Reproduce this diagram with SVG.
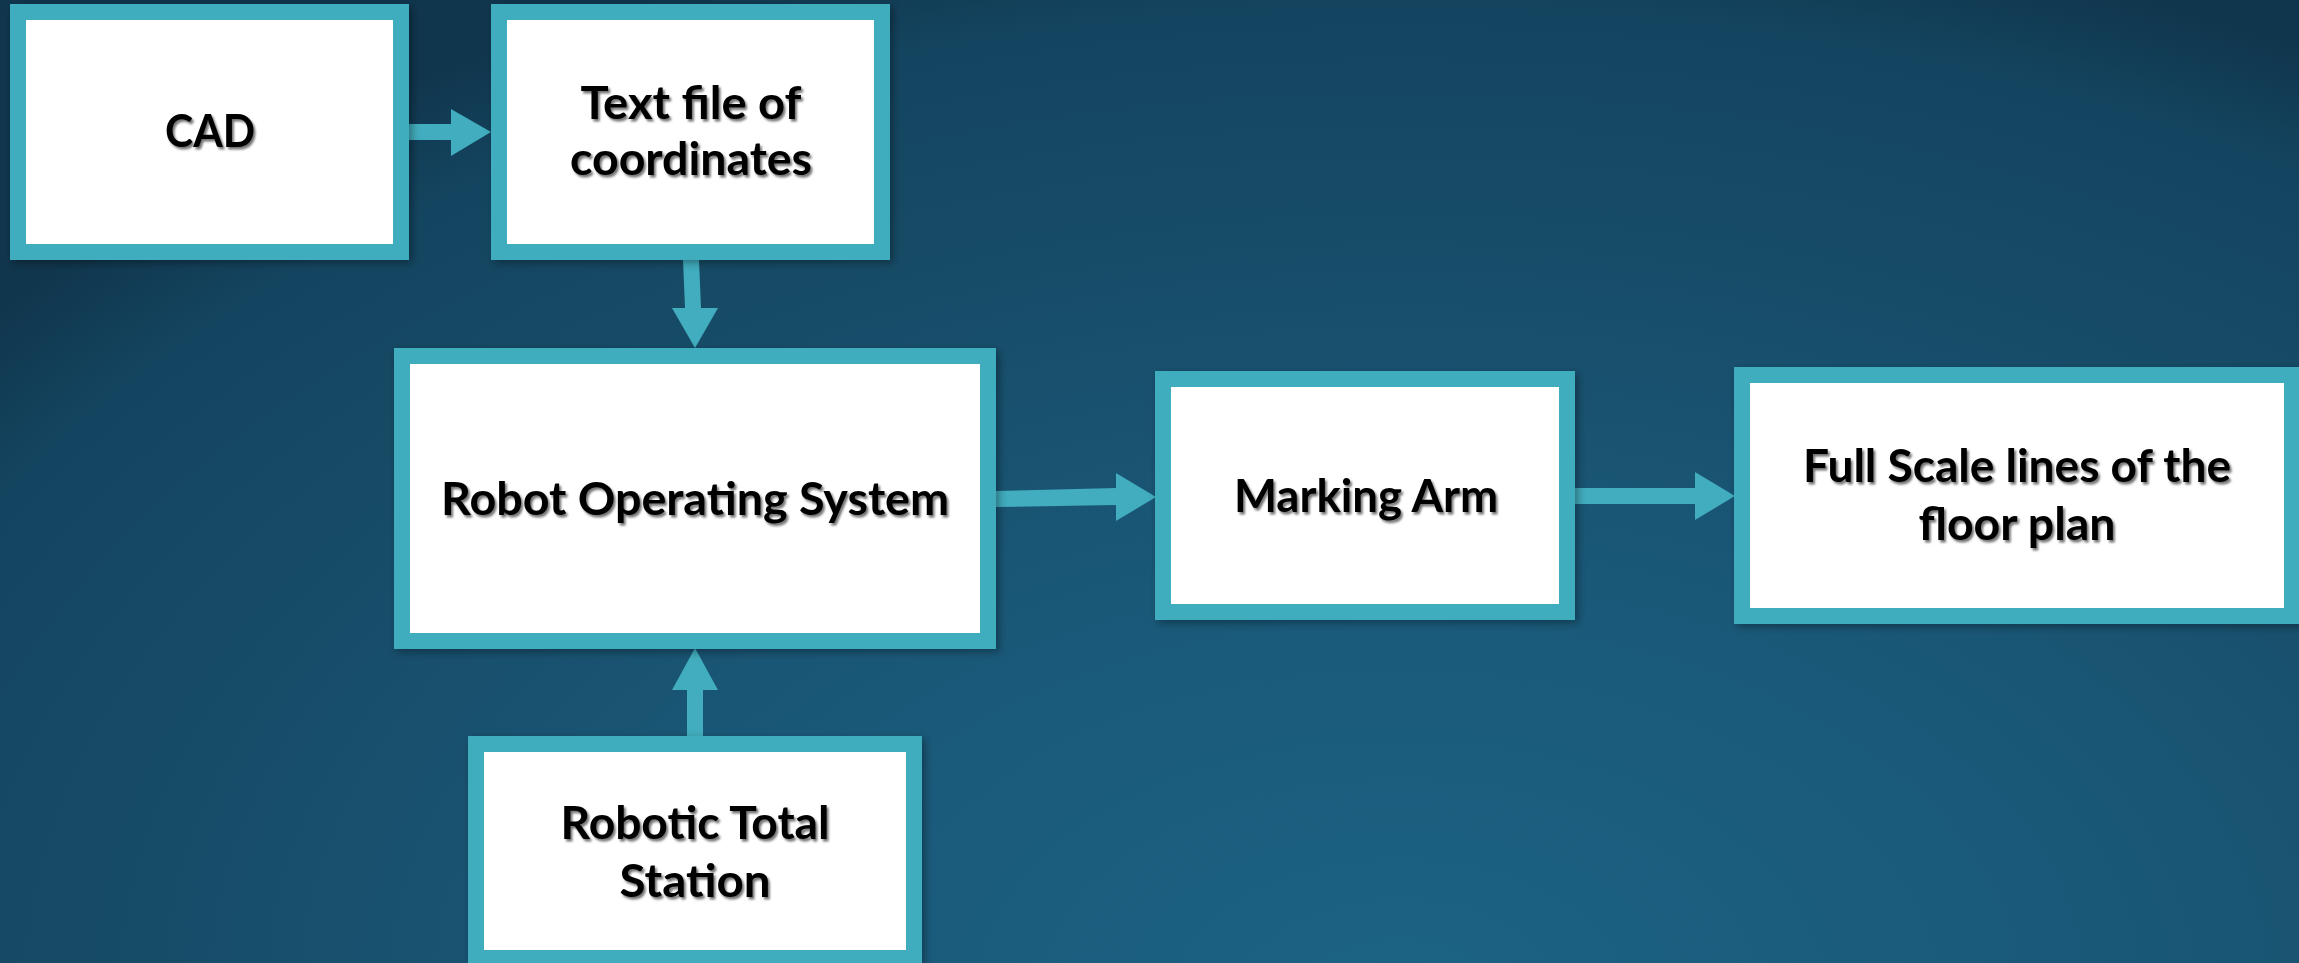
<svg xmlns="http://www.w3.org/2000/svg" width="2299" height="963" viewBox="0 0 2299 963">
  <defs>
    <radialGradient id="bg" gradientUnits="userSpaceOnUse" cx="1400" cy="1000" r="1800" gradientTransform="translate(1400 1000) scale(1 0.611) translate(-1400 -1000)">
      <stop offset="0" stop-color="#1c6384"/>
      <stop offset="0.4" stop-color="#1a5878"/>
      <stop offset="0.75" stop-color="#164a65"/>
      <stop offset="0.9" stop-color="#144560"/>
      <stop offset="1" stop-color="#10364d"/>
    </radialGradient>
    <filter id="tshadow" x="-10%" y="-30%" width="120%" height="160%">
      <feDropShadow dx="2" dy="2.5" stdDeviation="1.2" flood-color="#000" flood-opacity="0.55"/>
    </filter>
    <filter id="bshadow" x="-10%" y="-10%" width="120%" height="120%">
      <feDropShadow dx="3" dy="3" stdDeviation="4" flood-color="#000" flood-opacity="0.35"/>
    </filter>
  </defs>
  <style>
    .box { fill: #ffffff; stroke: #41adbe; stroke-width: 16; filter: url(#bshadow); }
    .lbl { font-family: "Lato", "Open Sans", "DejaVu Sans", sans-serif; font-weight: bold; font-size: 45px; fill: #000000; text-anchor: middle; filter: url(#tshadow); }
    .arrow { fill: #41adbe; stroke: none; }
  </style>
  <rect x="0" y="0" width="2299" height="963" fill="url(#bg)"/>

  <g id="connectors">
    <polygon class="arrow" points="409,124 451,124 451,109 491,132 451,156 451,140 409,140"/>
    <polygon class="arrow" points="683,260 699,260 701,308 718,308 695,348 672,308 685,308"/>
    <polygon class="arrow" points="996,491 1116,488 1116,473 1156,497 1116,521 1116,505 996,507"/>
    <polygon class="arrow" points="1575,488 1695,488 1695,472 1735,496 1695,520 1695,504 1575,504"/>
    <polygon class="arrow" points="687,736 687,690 672,690 695,648 718,690 703,690 703,736"/>
  </g>

  <g id="cad">
    <rect class="box" x="18" y="12" width="383" height="240"/>
    <text class="lbl" x="210" y="147" textLength="90" lengthAdjust="spacingAndGlyphs">CAD</text>
  </g>
  <g id="textfile">
    <rect class="box" x="499" y="12" width="383" height="240"/>
    <text class="lbl" x="691" y="119" textLength="221" lengthAdjust="spacingAndGlyphs">Text file of</text>
    <text class="lbl" x="691" y="175" textLength="242" lengthAdjust="spacingAndGlyphs">coordinates</text>
  </g>
  <g id="ros">
    <rect class="box" x="402" y="356" width="586" height="285"/>
    <text class="lbl" x="695" y="515" textLength="508" lengthAdjust="spacingAndGlyphs">Robot Operating System</text>
  </g>
  <g id="marking">
    <rect class="box" x="1163" y="379" width="404" height="233"/>
    <text class="lbl" x="1366" y="512" textLength="264" lengthAdjust="spacingAndGlyphs">Marking Arm</text>
  </g>
  <g id="fullscale">
    <rect class="box" x="1742" y="375" width="550" height="241"/>
    <text class="lbl" x="2017" y="482" textLength="428" lengthAdjust="spacingAndGlyphs">Full Scale lines of the</text>
    <text class="lbl" x="2017" y="540" textLength="197" lengthAdjust="spacingAndGlyphs">floor plan</text>
  </g>
  <g id="rts">
    <rect class="box" x="476" y="744" width="438" height="214"/>
    <text class="lbl" x="695" y="839" textLength="269" lengthAdjust="spacingAndGlyphs">Robotic Total</text>
    <text class="lbl" x="695" y="897" textLength="151" lengthAdjust="spacingAndGlyphs">Station</text>
  </g>
</svg>
